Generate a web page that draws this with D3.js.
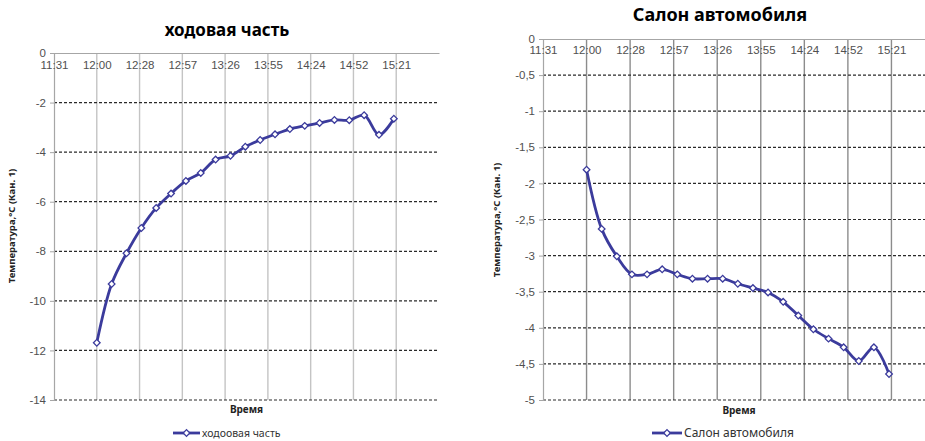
<!DOCTYPE html>
<html><head><meta charset="utf-8">
<script src="https://cdn.jsdelivr.net/npm/d3@7"></script>
<style>
html,body{margin:0;padding:0;background:#fff;overflow:hidden}
svg{display:block;font-family:"Noto Sans","Open Sans",sans-serif}
</style></head>
<body>
<svg id="c" width="925" height="441"></svg>
<script>
// ---- data ----
const times = ["12:00","12:10","12:20","12:30","12:40","12:50","13:00","13:10","13:20","13:30","13:40",
               "13:50","14:00","14:10","14:20","14:30","14:40","14:50","15:00","15:10","15:20"];
const chassisValues = [-11.69,-9.32,-8.08,-7.06,-6.25,-5.67,-5.16,-4.84,-4.30,-4.15,-3.78,
                       -3.51,-3.28,-3.07,-2.94,-2.82,-2.70,-2.71,-2.51,-3.30,-2.65];
const cabinValues = [-1.81,-2.63,-3.01,-3.26,-3.26,-3.19,-3.26,-3.32,-3.32,-3.32,-3.39,
                     -3.45,-3.51,-3.64,-3.83,-4.02,-4.15,-4.27,-4.46,-4.27,-4.64];
const xTickDays = [0.48,0.50,0.52,0.54,0.56,0.58,0.60,0.62,0.64];
const xTickLabels = ["11:31","12:00","12:28","12:57","13:26","13:55","14:24","14:52","15:21"];
const xDomainDays = [0.48,0.66];
const leftYTicks = [0,-2,-4,-6,-8,-10,-12,-14];
const rightYTicks = [0,-0.5,-1,-1.5,-2,-2.5,-3,-3.5,-4,-4.5,-5];
const leftTitle = "ходовая часть";
const leftLegend = "ходоовая часть";
const rightTitle = "Салон автомобиля";
const rightLegend = "Салон автомобиля";
const yAxisTitle = "Температура,°С (Кан. 1)";
const xAxisTitle = "Время";

const toDay = t => { const [h,m] = t.split(":").map(Number); return (h*60+m)/1440; };
const BLUE = "#3b3b9c";
const svg = d3.select("#c");

function chart(o){
  const x = d3.scaleLinear().domain(xDomainDays).range(o.xr);
  const y = d3.scaleLinear().domain([0, o.ymin]).range(o.yr);
  const g = svg.append("g");
  g.selectAll(".vg").data(xTickDays.slice(1)).join("line")
    .attr("x1", d=>x(d)).attr("x2", d=>x(d)).attr("y1", y(0)).attr("y2", y(o.ymin))
    .attr("stroke", o.vcol).attr("stroke-width", 1.4);
  g.selectAll(".hg").data(o.yticks.slice(1)).join("line")
    .attr("x1", o.xr[0]).attr("x2", o.xr[1]).attr("y1", d=>y(d)).attr("y2", d=>y(d))
    .attr("stroke", "#2a2a2a").attr("stroke-width", 1.2).attr("stroke-dasharray", "3,2");
  const ya = d3.axisLeft(y).tickValues(o.yticks).tickSize(4)
    .tickFormat(d => String(d).replace(".", ","));
  const yg = g.append("g").attr("transform", `translate(${o.xr[0]},0)`).call(ya);
  yg.select(".domain").attr("stroke", "#a6a6a6").attr("stroke-width", 1.2);
  yg.selectAll(".tick line").attr("stroke", "#a6a6a6");
  yg.selectAll(".tick text").attr("fill", "#505050").attr("font-size", 11.5).attr("x", -8);
  const xa = d3.axisBottom(x).tickValues(xTickDays).tickSize(0)
    .tickFormat((d,i) => xTickLabels[i]);
  const xg = g.append("g").attr("transform", `translate(0,${y(0)})`).call(xa);
  xg.select(".domain").attr("stroke", "#a6a6a6").attr("stroke-width", 1.2);
  xg.selectAll(".tick text").attr("fill", "#505050").attr("font-size", 11.5).attr("dy", "0.71em").attr("y", o.xlabDy);
  const pts = times.map((t,i)=>[toDay(t), o.values[i]]);
  g.append("path").datum(pts)
    .attr("d", d3.line().x(d=>x(d[0])).y(d=>y(d[1])).curve(d3.curveCatmullRom))
    .attr("fill","none").attr("stroke",BLUE).attr("stroke-width",2.8);
  const diamond = d3.symbol().type(d3.symbolSquare).size(22);
  g.selectAll(".pt").data(pts).join("path")
    .attr("d", diamond).attr("transform", d=>`translate(${x(d[0])},${y(d[1])}) rotate(45)`)
    .attr("fill","#fff").attr("stroke",BLUE).attr("stroke-width",1.3);
  svg.append("text").attr("x", o.titleX).attr("y", o.titleY).attr("text-anchor","middle")
    .attr("font-size", o.titleSize).attr("font-weight","bold").attr("fill","#000").text(o.title);
  svg.append("text").attr("transform", `translate(${o.ytX},${o.ytY}) rotate(-90)`)
    .attr("text-anchor","middle").attr("font-size",9.5).attr("font-weight","bold").attr("fill","#222").text(yAxisTitle);
  svg.append("text").attr("x", (o.xr[0]+o.xr[1])/2).attr("y", o.xtY).attr("text-anchor","middle")
    .attr("font-size",10).attr("font-weight","bold").attr("fill","#222").text(xAxisTitle);
  const lg = svg.append("g").attr("transform", `translate(${o.legX},${o.legY})`);
  lg.append("line").attr("x1",0).attr("x2",o.legW).attr("y1",0).attr("y2",0).attr("stroke",BLUE).attr("stroke-width",2.8);
  lg.append("path").attr("d", diamond).attr("transform",`translate(${o.legW/2},0) rotate(45)`)
    .attr("fill","#fff").attr("stroke",BLUE).attr("stroke-width",1.3);
  lg.append("text").attr("x", o.legW+2).attr("y",0).attr("dy","0.35em")
    .attr("font-size", o.legSize).attr("fill","#333").text(o.legend);
}

chart({xr:[54,439], yr:[53,400], ymin:-14, yticks:leftYTicks, values:chassisValues,
  vcol:"#c4c4c4", xlabDy:8, title:leftTitle, titleX:227, titleY:36, titleSize:17,
  ytX:15, ytY:226, xtY:413, legX:173, legY:433, legW:27, legSize:10.5, legend:leftLegend});
chart({xr:[543,935], yr:[39,400], ymin:-5, yticks:rightYTicks, values:cabinValues,
  vcol:"#8c8c8c", xlabDy:7, title:rightTitle, titleX:720, titleY:21, titleSize:18,
  ytX:500, ytY:220, xtY:414, legX:652, legY:433, legW:30, legSize:12, legend:rightLegend});
</script>
</body></html>
